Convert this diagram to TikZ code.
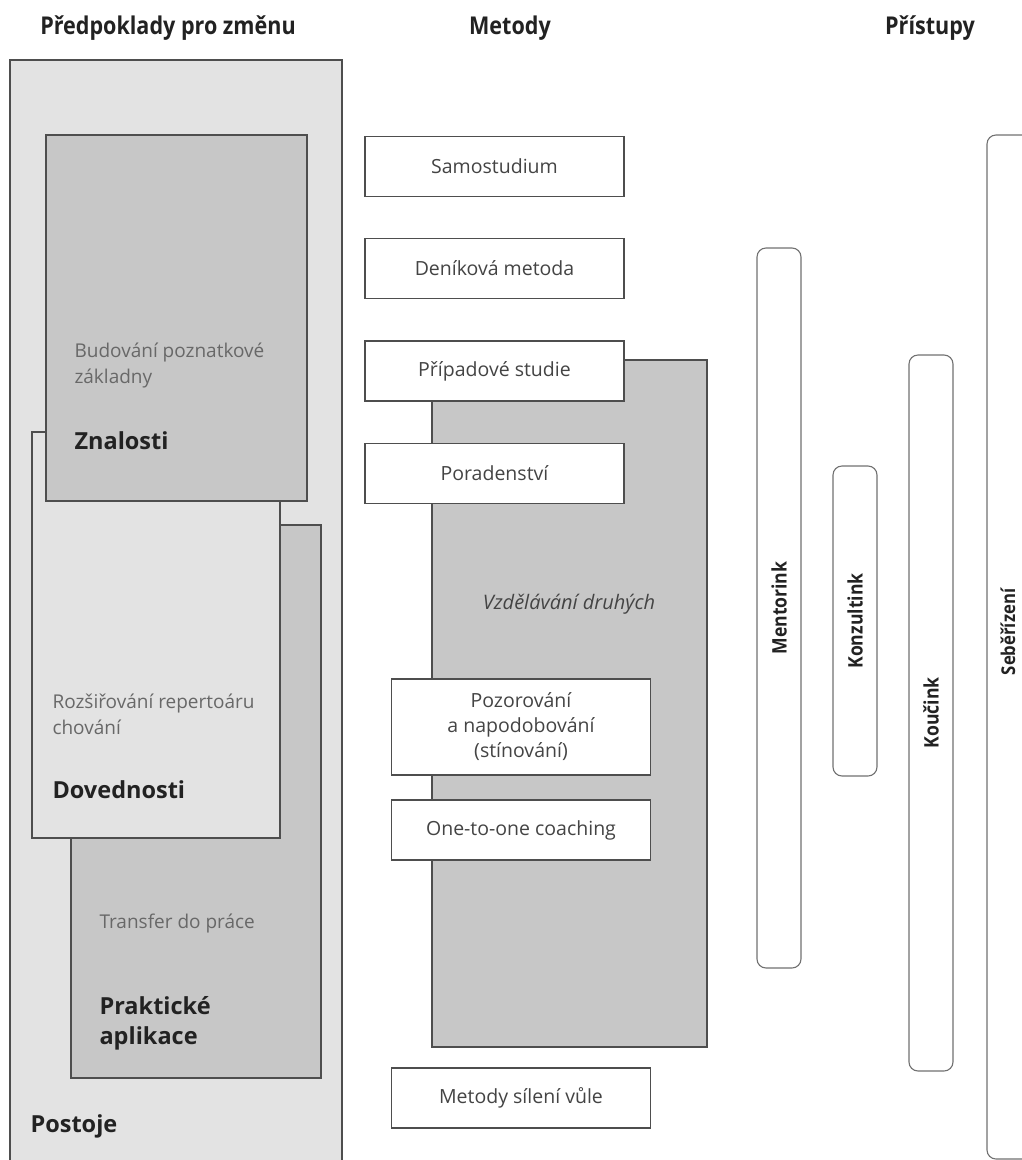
\documentclass[tikz,border=0pt]{standalone}
\usepackage{fontspec}
\setmainfont{Open Sans}
\newfontfamily\condfont[FakeStretch=0.88]{Open Sans}
\definecolor{lightfill}{HTML}{E3E3E3}
\definecolor{midfill}{HTML}{C7C7C7}
\definecolor{edgegray}{HTML}{4E4E4E}
\definecolor{softtext}{HTML}{686868}
\definecolor{boxtext}{HTML}{444444}
\definecolor{strongtext}{HTML}{222222}

\tikzset{
  area/.style={draw=edgegray, line width=1.1pt},
  headline/.style={font=\condfont\bfseries\fontsize{24.5}{28}\selectfont, text=strongtext},
  note/.style={anchor=west, align=left, text=softtext, font=\fontsize{19}{26}\selectfont},
  title/.style={anchor=west, align=left, text=strongtext, font=\bfseries\fontsize{23.5}{30}\selectfont},
  metbox/.style={draw=edgegray, fill=white, line width=1.1pt, minimum width=259pt,
    minimum height=60pt, align=center, text=boxtext, font=\fontsize{19.5}{25}\selectfont},
  bar/.style={draw=edgegray!80, fill=white, line width=1.1pt, rounded corners=9pt,
    rotate=90, minimum height=44pt, text=strongtext, font=\condfont\bfseries\fontsize{20}{24}\selectfont}
}

\begin{document}
\begin{tikzpicture}[x=1pt,y=-1pt]
  \useasboundingbox (0,0) rectangle (1021,1160);
  %% column heads
  \node[headline] (hpred) at (168,28) {Předpoklady pro změnu};
  \node[headline] (hmet) at (510,28) {Metody};
  \node[headline] (hpri) at (930,28) {Přístupy};

  %% Predpoklady: Postoje, Prakticke aplikace, Dovednosti, Znalosti
  \filldraw[area, fill=lightfill] (10,60) rectangle (342,1175);
  \filldraw[area, fill=midfill] (71,525) rectangle (321,1078);
  \filldraw[area, fill=lightfill] (32,432) rectangle (280,838);
  \filldraw[area, fill=midfill] (46,135) rectangle (307,501);
  \node[note] (znote) at (71,365) {Budování poznatkové\\základny};
  \node[title] (znal) at (71,441) {Znalosti};
  \node[note] (dnote) at (49,714) {Rozšiřování repertoáru\\chování};
  \node[title] (dove) at (49,790) {Dovednosti};
  \node[note] (pnote) at (96,923) {Transfer do práce};
  \node[title] (prak) at (96,1023) {Praktické\\aplikace};
  \node[title] (post) at (27,1126) {Postoje};

  %% Metody
  \filldraw[area, fill=midfill] (432,360) rectangle (707,1047);
  \node[text=boxtext, font=\itshape\fontsize{20}{24}\selectfont] (vzdel) at (569,604) {Vzdělávání druhých};
  \node[metbox] (samo) at (494.5,166.5) {Samostudium};
  \node[metbox] (deni) at (494.5,268.5) {Deníková metoda};
  \node[metbox] (pripad) at (494.5,371) {Případové studie};
  \node[metbox] (porad) at (494.5,473.5) {Poradenství};
  \node[metbox, minimum height=96pt] (pozor) at (521,727) {Pozorování\\a napodobování\\(stínování)};
  \node[metbox] (coach) at (521,830) {One-to-one coaching};
  \node[metbox] (vule) at (521,1098) {Metody sílení vůle};

  %% Pristupy
  \node[bar, minimum width=720pt] (mentor) at (779,608) {Mentorink};
  \node[bar, minimum width=310pt] (konzult) at (855,621) {Konzultink};
  \node[bar, minimum width=716pt] (koucink) at (931,713) {Koučink};
  \node[bar, minimum width=1024pt] (seberiz) at (1009,647) {};
  \node[rotate=90, inner sep=0pt, text=strongtext, font=\condfont\bfseries\fontsize{19}{22}\selectfont] (sebtext) at (1008,632) {Seběřízení};
\end{tikzpicture}
\end{document}
